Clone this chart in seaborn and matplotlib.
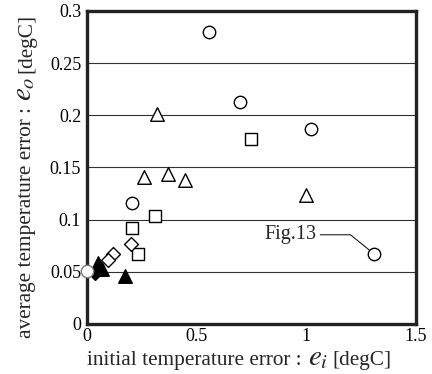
import matplotlib
matplotlib.use("Agg")
import matplotlib.pyplot as plt
import pandas as pd
import seaborn as sns

# initial error e_i / average error e_o per marker group
circle_x = [0.556, 0.697, 1.023, 0.206, 1.31]
circle_y = [0.280, 0.2125, 0.187, 0.116, 0.067]
square_x = [0.747, 0.309, 0.207, 0.232]
square_y = [0.177, 0.1035, 0.0917, 0.0668]
triangle_x = [0.321, 0.262, 0.371, 0.450, 1.00]
triangle_y = [0.201, 0.141, 0.1435, 0.138, 0.124]
diamond_x = [0.201, 0.118, 0.095]
diamond_y = [0.077, 0.067, 0.061]
ftri_x = [0.050, 0.070, 0.174]
ftri_y = [0.058, 0.053, 0.046]
fdiam_x = [0.040]
fdiam_y = [0.049]
origin_x = [0.0]
origin_y = [0.051]

FIG_NOTE = "Fig.13"
NOTE_POINT = (1.31, 0.067)
X_LABEL = ["initial temperature error :", "$e_i$", "[degC]"]
Y_LABEL = ["average temperature error :", "$e_o$", "[degC]"]
LABEL_SIZES = [15.3, 21, 15.3]
LABEL_GAPS = [6, 4, 0]

W, H = 432, 374


def chain_label(fig, x0, y0, pieces, vertical):
    """Lay out label pieces along one baseline (pixel coords), symbol bigger."""
    renderer = fig.canvas.get_renderer()
    pos = x0 if not vertical else y0
    for text, size, gap in zip(pieces, LABEL_SIZES, LABEL_GAPS):
        xy = (pos, y0) if not vertical else (x0, pos)
        t = fig.text(xy[0] / W, xy[1] / H, text, fontsize=size,
                     rotation=90 if vertical else 0, rotation_mode="anchor",
                     ha="left", va="baseline")
        bb = t.get_window_extent(renderer)
        pos += (bb.height if vertical else bb.width) + gap


sns.set_theme(style="white")
plt.rcParams["font.family"] = ["Liberation Serif", "DejaVu Serif"]
plt.rcParams["mathtext.fontset"] = "stix"

fig = plt.figure(figsize=(W / 100, H / 100), dpi=100)
ax = fig.add_axes([0.2007, 0.1337, 0.7623, 0.8369])

groups = [
    (circle_x, circle_y, "o", "white", "black", 80),
    (square_x, square_y, "s", "white", "black", 80),
    (triangle_x, triangle_y, "^", "white", "black", 95),
    (diamond_x, diamond_y, "D", "white", "black", 50),
    (ftri_x, ftri_y, "^", "black", "black", 95),
    (fdiam_x, fdiam_y, "D", "black", "black", 50),
    (origin_x, origin_y, "o", "white", "#777777", 80),
]
for xs, ys, mk, fc, ec, size in groups:
    df = pd.DataFrame({"x": xs, "y": ys})
    sns.scatterplot(data=df, x="x", y="y", marker=mk, s=size, color=fc,
                    edgecolor=ec, linewidth=1.0, ax=ax, zorder=4, clip_on=False)

ax.annotate(FIG_NOTE, xy=NOTE_POINT, xytext=(0.93, 0.0855), fontsize=14.5,
            ha="center", va="center",
            arrowprops=dict(arrowstyle="-", color="black", lw=0.7,
                            connectionstyle="angle,angleA=0,angleB=141,rad=0",
                            shrinkA=0, shrinkB=2))

ax.set_xlim(0, 1.5)
ax.set_ylim(0, 0.3)
ax.set_xticks([0, 0.5, 1, 1.5])
ax.set_xticklabels(["0", "0.5", "1", "1.5"])
ax.set_yticks([0, 0.05, 0.1, 0.15, 0.2, 0.25, 0.3])
ax.set_yticklabels(["0", "0.05", "0.1", "0.15", "0.2", "0.25", "0.3"])
ax.yaxis.grid(True, color="#333333", lw=0.8)
ax.set_axisbelow(True)
ax.tick_params(axis="x", direction="in", length=4, width=0.8, labelsize=13, pad=3, colors="black")
ax.tick_params(axis="y", length=0, labelsize=13, pad=4, colors="black")
ax.set_xlabel("")
ax.set_ylabel("")
for sp in ax.spines.values():
    sp.set_color("#222222")
    sp.set_linewidth(2.4)

# pixel positions measured from the bottom-left corner
chain_label(fig, 87, H - 365, X_LABEL, vertical=False)
chain_label(fig, 31, H - 338, Y_LABEL, vertical=True)

fig.savefig("out.png", dpi=100)
